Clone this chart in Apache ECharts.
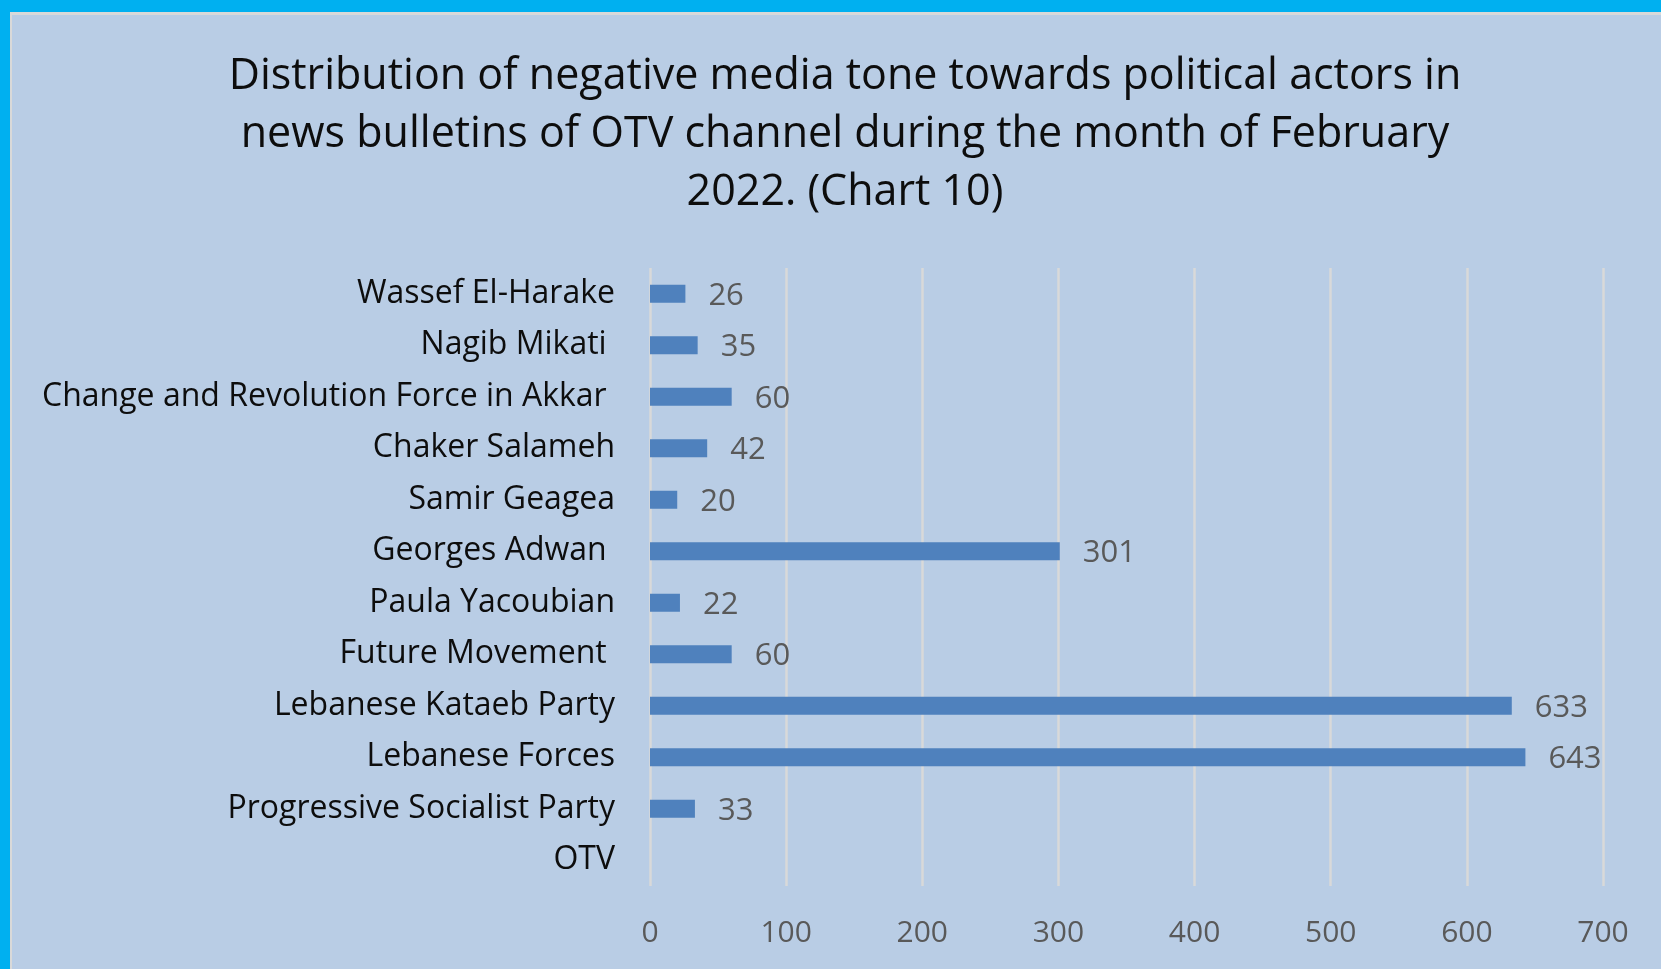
<!DOCTYPE html>
<html>
<head>
<meta charset="utf-8">
<script src="https://cdn.jsdelivr.net/npm/echarts@6/dist/echarts.min.js"></script>
<style>
html,body{margin:0;padding:0;background:#00b0f0;}
#chart{width:1661px;height:969px;}
</style>
</head>
<body>
<div id="chart"></div>
<script>
const categories = [
  "Wassef El-Harake",
  "Nagib Mikati ",
  "Change and Revolution Force in Akkar ",
  "Chaker Salameh",
  "Samir Geagea",
  "Georges Adwan ",
  "Paula Yacoubian",
  "Future Movement ",
  "Lebanese Kataeb Party",
  "Lebanese Forces",
  "Progressive Socialist Party",
  "OTV"
];
const values = [26, 35, 60, 42, 20, 301, 22, 60, 633, 643, 33, null];
const xTicks = { min: 0, max: 700, interval: 100 };
const titleText = "Distribution of negative media tone towards political actors in\nnews bulletins of OTV channel during the month of February\n2022. (Chart 10)";

const FONT = "Open Sans";
const chart = echarts.init(document.getElementById('chart'), null, {renderer: 'canvas'});
chart.setOption({
  backgroundColor: '#00b0f0',
  animation: false,
  graphic: [
    {type: 'rect', z: -10, shape: {x: 10, y: 12, width: 1700, height: 1000}, style: {fill: '#d9d9d9'}},
    {type: 'rect', z: -9, shape: {x: 12, y: 15, width: 1700, height: 1000}, style: {fill: '#b9cde5'}}
  ],
  title: {
    text: titleText,
    left: 840,
    top: 43,
    textAlign: 'center',
    textStyle: {fontFamily: FONT, fontSize: 43, fontWeight: 'normal', color: '#0d0d0d', lineHeight: 58}
  },
  grid: {left: 650, right: 58, top: 268, bottom: 83, containLabel: false},
  xAxis: {
    type: 'value',
    min: xTicks.min, max: xTicks.max, interval: xTicks.interval,
    axisLine: {show: false}, axisTick: {show: false},
    splitLine: {show: true, lineStyle: {color: '#d9d9d9', width: 2.5}},
    axisLabel: {color: '#595959', fontFamily: FONT, fontSize: 30, margin: 32}
  },
  yAxis: {
    type: 'category',
    inverse: true,
    data: categories,
    axisLine: {show: false}, axisTick: {show: false},
    splitLine: {show: false},
    axisLabel: {color: '#0d0d0d', fontFamily: FONT, fontSize: 32, margin: 35}
  },
  series: [{
    type: 'bar',
    data: values.map(v => v === null ? '-' : v),
    barWidth: 18,
    itemStyle: {color: '#4f81bd'},
    label: {
      show: true, position: 'right', distance: 23, offset: [0, 2],
      color: '#595959', fontFamily: FONT, fontSize: 31,
      formatter: p => (p.value === '-' || p.value == null) ? '' : p.value
    }
  }]
});
</script>
</body>
</html>
